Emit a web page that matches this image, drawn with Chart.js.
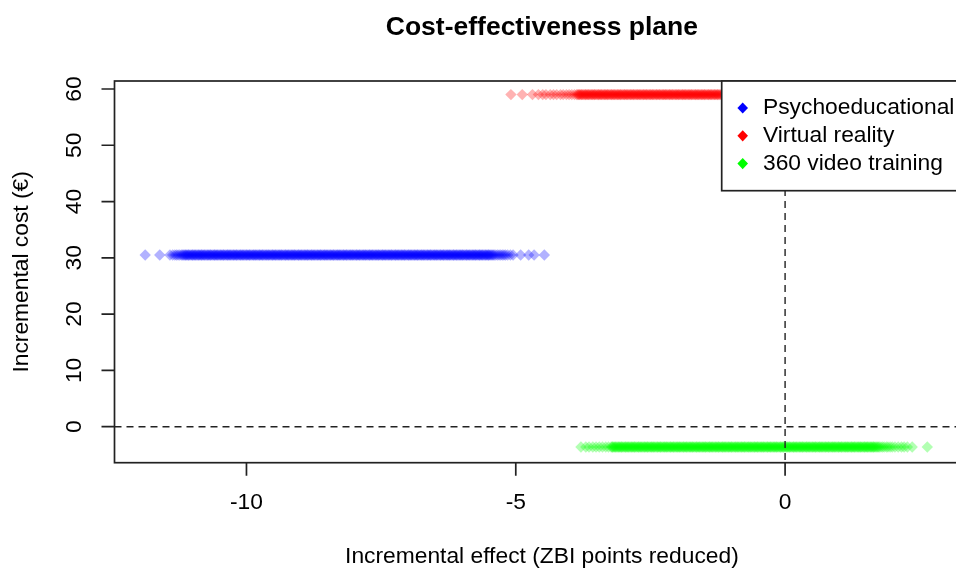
<!DOCTYPE html>
<html>
<head>
<meta charset="utf-8">
<title>Cost-effectiveness plane</title>
<script src="https://cdn.jsdelivr.net/npm/chart.js@4.4.1/dist/chart.umd.min.js"></script>
<style>
  html, body { margin: 0; padding: 0; background: #fff; overflow: hidden; }
  #wrap { width: 956px; height: 569px; overflow: hidden; }
</style>
</head>
<body>
<div id="wrap"><canvas id="cePlane" width="975" height="569"></canvas></div>
<script>
// incremental cost (€) of each intervention, and its simulated incremental effects
const seriesNames = ['Psychoeducational', 'Virtual reality', '360 video training'];
const seriesColors = ['0,0,255', '255,0,0', '0,255,0'];
const seriesCost = [30.5, 59.0, -3.6];

const psychoEffect = [
  -11.88, -11.61, -11.42, -11.37, -11.33, -11.30, -11.27, -11.24, -11.21, -11.19, -11.17,
  -11.15, -11.13, -11.12, -11.10, -11.08, -11.07, -11.05, -11.03, -11.01, -11.00,
  -10.98, -10.96, -10.95, -10.93, -10.91, -10.89, -10.88, -10.86, -10.84, -10.83,
  -10.81, -10.79, -10.78, -10.76, -10.74, -10.72, -10.71, -10.69, -10.67, -10.66,
  -10.64, -10.62, -10.60, -10.59, -10.57, -10.55, -10.54, -10.52, -10.50, -10.48,
  -10.47, -10.45, -10.43, -10.42, -10.40, -10.38, -10.36, -10.35, -10.33, -10.31,
  -10.30, -10.28, -10.26, -10.24, -10.23, -10.21, -10.19, -10.18, -10.16, -10.14,
  -10.12, -10.11, -10.09, -10.07, -10.06, -10.04, -10.02, -10.00, -9.99, -9.97,
  -9.95, -9.94, -9.92, -9.90, -9.88, -9.87, -9.85, -9.83, -9.82, -9.80,
  -9.78, -9.76, -9.75, -9.73, -9.71, -9.70, -9.68, -9.66, -9.64, -9.63,
  -9.61, -9.59, -9.58, -9.56, -9.54, -9.52, -9.51, -9.49, -9.47, -9.46,
  -9.44, -9.42, -9.40, -9.39, -9.37, -9.35, -9.34, -9.32, -9.30, -9.28,
  -9.27, -9.25, -9.23, -9.22, -9.20, -9.18, -9.16, -9.15, -9.13, -9.11,
  -9.10, -9.08, -9.06, -9.04, -9.03, -9.01, -8.99, -8.98, -8.96, -8.94,
  -8.92, -8.91, -8.89, -8.87, -8.86, -8.84, -8.82, -8.80, -8.79, -8.77,
  -8.75, -8.74, -8.72, -8.70, -8.68, -8.67, -8.65, -8.63, -8.62, -8.60,
  -8.58, -8.56, -8.55, -8.53, -8.51, -8.50, -8.48, -8.46, -8.44, -8.43,
  -8.41, -8.39, -8.38, -8.36, -8.34, -8.32, -8.31, -8.29, -8.27, -8.26,
  -8.24, -8.22, -8.20, -8.19, -8.17, -8.15, -8.14, -8.12, -8.10, -8.08,
  -8.07, -8.05, -8.03, -8.02, -8.00, -7.98, -7.96, -7.95, -7.93, -7.91,
  -7.90, -7.88, -7.86, -7.84, -7.83, -7.81, -7.79, -7.78, -7.76, -7.74,
  -7.72, -7.71, -7.69, -7.67, -7.66, -7.64, -7.62, -7.60, -7.59, -7.57,
  -7.55, -7.54, -7.52, -7.50, -7.48, -7.47, -7.45, -7.43, -7.42, -7.40,
  -7.38, -7.36, -7.35, -7.33, -7.31, -7.30, -7.28, -7.26, -7.24, -7.23,
  -7.21, -7.19, -7.18, -7.16, -7.14, -7.12, -7.11, -7.09, -7.07, -7.06,
  -7.04, -7.02, -7.00, -6.99, -6.97, -6.95, -6.94, -6.92, -6.90, -6.88,
  -6.87, -6.85, -6.83, -6.82, -6.80, -6.78, -6.76, -6.75, -6.73, -6.71,
  -6.70, -6.68, -6.66, -6.64, -6.63, -6.61, -6.59, -6.58, -6.56, -6.54,
  -6.52, -6.51, -6.49, -6.47, -6.46, -6.44, -6.42, -6.40, -6.39, -6.37,
  -6.35, -6.34, -6.32, -6.30, -6.28, -6.27, -6.25, -6.23, -6.22, -6.20,
  -6.18, -6.16, -6.15, -6.13, -6.11, -6.10, -6.08, -6.06, -6.04, -6.03,
  -6.01, -5.99, -5.98, -5.96, -5.94, -5.92, -5.91, -5.89, -5.87, -5.86,
  -5.84, -5.82, -5.80, -5.79, -5.77, -5.75, -5.74, -5.72, -5.70, -5.68,
  -5.67, -5.65, -5.63, -5.62, -5.60, -5.58, -5.56, -5.55, -5.53, -5.51,
  -5.50, -5.48, -5.46, -5.44, -5.42, -5.40, -5.37,
  -5.34, -5.31, -5.28, -5.25, -5.22, -5.19, -5.15, -5.10, -5.05, -4.91,
  -4.76, -4.66, -4.47
];

const vrEffect = [
  -5.09, -4.88, -4.69, -4.58, -4.50, -4.44, -4.36, -4.30, -4.24, -4.17,
  -4.12, -4.06, -4.01, -3.96, -3.91,
  -3.87, -3.85, -3.83, -3.82, -3.80, -3.78, -3.77, -3.75, -3.73, -3.71,
  -3.70, -3.68, -3.66, -3.65, -3.63, -3.61, -3.59, -3.58, -3.56, -3.54,
  -3.53, -3.51, -3.49, -3.47, -3.46, -3.44, -3.42, -3.41, -3.39, -3.37,
  -3.35, -3.34, -3.32, -3.30, -3.29, -3.27, -3.25, -3.23, -3.22, -3.20,
  -3.18, -3.17, -3.15, -3.13, -3.11, -3.10, -3.08, -3.06, -3.05, -3.03,
  -3.01, -2.99, -2.98, -2.96, -2.94, -2.93, -2.91, -2.89, -2.87, -2.86,
  -2.84, -2.82, -2.81, -2.79, -2.77, -2.75, -2.74, -2.72, -2.70, -2.69,
  -2.67, -2.65, -2.63, -2.62, -2.60, -2.58, -2.57, -2.55, -2.53, -2.51,
  -2.50, -2.48, -2.46, -2.45, -2.43, -2.41, -2.39, -2.38, -2.36, -2.34,
  -2.33, -2.31, -2.29, -2.27, -2.26, -2.24, -2.22, -2.21, -2.19, -2.17,
  -2.15, -2.14, -2.12, -2.10, -2.09, -2.07, -2.05, -2.03, -2.02, -2.00,
  -1.98, -1.97, -1.95, -1.93, -1.91, -1.90, -1.88, -1.86, -1.85, -1.83,
  -1.81, -1.79, -1.78, -1.76, -1.74, -1.73, -1.71, -1.69, -1.67, -1.66,
  -1.64, -1.62, -1.61, -1.59, -1.57, -1.55, -1.54, -1.52, -1.50, -1.49,
  -1.47, -1.45, -1.43, -1.42, -1.40, -1.38, -1.37, -1.35, -1.33, -1.31,
  -1.30, -1.28, -1.26, -1.25, -1.23, -1.21, -1.19, -1.17,
  -1.14, -1.10, -1.05, -0.98, -0.90, -0.81, -0.70, -0.55, -0.38, -0.15, 0.12
];

const videoEffect = [
  -3.79, -3.70, -3.64, -3.57, -3.51, -3.45, -3.39, -3.33, -3.28,
  -3.23, -3.21, -3.20, -3.18, -3.16, -3.15, -3.13, -3.11, -3.09, -3.08,
  -3.06, -3.04, -3.03, -3.01, -2.99, -2.97, -2.96, -2.94, -2.92, -2.91,
  -2.89, -2.87, -2.85, -2.84, -2.82, -2.80, -2.79, -2.77, -2.75, -2.73,
  -2.72, -2.70, -2.68, -2.67, -2.65, -2.63, -2.61, -2.60, -2.58, -2.56,
  -2.55, -2.53, -2.51, -2.49, -2.48, -2.46, -2.44, -2.43, -2.41, -2.39,
  -2.37, -2.36, -2.34, -2.32, -2.31, -2.29, -2.27, -2.25, -2.24, -2.22,
  -2.20, -2.19, -2.17, -2.15, -2.13, -2.12, -2.10, -2.08, -2.07, -2.05,
  -2.03, -2.01, -2.00, -1.98, -1.96, -1.95, -1.93, -1.91, -1.89, -1.88,
  -1.86, -1.84, -1.83, -1.81, -1.79, -1.77, -1.76, -1.74, -1.72, -1.71,
  -1.69, -1.67, -1.65, -1.64, -1.62, -1.60, -1.59, -1.57, -1.55, -1.53,
  -1.52, -1.50, -1.48, -1.47, -1.45, -1.43, -1.41, -1.40, -1.38, -1.36,
  -1.35, -1.33, -1.31, -1.29, -1.28, -1.26, -1.24, -1.23, -1.21, -1.19,
  -1.17, -1.16, -1.14, -1.12, -1.11, -1.09, -1.07, -1.05, -1.04, -1.02,
  -1.00, -0.99, -0.97, -0.95, -0.93, -0.92, -0.90, -0.88, -0.87, -0.85,
  -0.83, -0.81, -0.80, -0.78, -0.76, -0.75, -0.73, -0.71, -0.69, -0.68,
  -0.66, -0.64, -0.63, -0.61, -0.59, -0.57, -0.56, -0.54, -0.52, -0.51,
  -0.49, -0.47, -0.45, -0.44, -0.42, -0.40, -0.39, -0.37, -0.35, -0.33,
  -0.32, -0.30, -0.28, -0.27, -0.25, -0.23, -0.21, -0.20, -0.18, -0.16,
  -0.15, -0.13, -0.11, -0.09, -0.08, -0.06, -0.04, -0.03, -0.01, 0.01,
  0.03, 0.04, 0.06, 0.08, 0.09, 0.11, 0.13, 0.15, 0.16, 0.18,
  0.20, 0.21, 0.23, 0.25, 0.27, 0.28, 0.30, 0.32, 0.33, 0.35,
  0.37, 0.39, 0.40, 0.42, 0.44, 0.45, 0.47, 0.49, 0.51, 0.52,
  0.54, 0.56, 0.57, 0.59, 0.61, 0.63, 0.64, 0.66, 0.68, 0.69,
  0.71, 0.73, 0.75, 0.76, 0.78, 0.80, 0.81, 0.83, 0.85, 0.87,
  0.88, 0.90, 0.92, 0.93, 0.95, 0.97, 0.99, 1.00, 1.02, 1.04,
  1.05, 1.07, 1.09, 1.11, 1.12, 1.14, 1.16, 1.17, 1.19, 1.21,
  1.23, 1.24, 1.26, 1.28, 1.29, 1.31, 1.33, 1.35, 1.36, 1.38,
  1.40, 1.41, 1.43, 1.45, 1.47, 1.48, 1.50, 1.52, 1.53, 1.55,
  1.57, 1.59, 1.60, 1.62, 1.64, 1.65, 1.67, 1.69, 1.71, 1.73,
  1.75, 1.78, 1.81, 1.84,
  1.88, 1.91, 1.95, 1.99, 2.04, 2.10, 2.16, 2.21, 2.27, 2.36, 2.64
];

const xTicks = [-10, -5, 0];
const yTicks = [0, 10, 20, 30, 40, 50, 60];

const effects = [psychoEffect, vrEffect, videoEffect];
const FONT = '"Liberation Sans", Arial, sans-serif';

// draws the base-R look: box, outward ticks, rotated y labels, titles, dashed zero lines, legend
const rStyle = {
    id: 'rStyle',
    afterDatasetsDraw(chart) {
        const { ctx, chartArea: a, scales: { x, y } } = chart;
        ctx.save();

        // dashed lines through the origin
        ctx.strokeStyle = '#222';
        ctx.lineWidth = 1.4;
        ctx.setLineDash([7, 5]);
        const x0 = x.getPixelForValue(0);
        const y0 = y.getPixelForValue(0);
        ctx.beginPath();
        ctx.moveTo(a.left, y0); ctx.lineTo(a.right, y0);
        ctx.moveTo(x0, a.top); ctx.lineTo(x0, a.bottom);
        ctx.stroke();
        ctx.setLineDash([]);

        // plot box
        ctx.lineWidth = 1.7;
        ctx.strokeRect(a.left, a.top, a.width, a.height);

        ctx.fillStyle = '#000';
        ctx.font = '22.8px ' + FONT;
        ctx.textAlign = 'center';
        ctx.textBaseline = 'middle';

        // x axis
        ctx.beginPath();
        xTicks.forEach(v => {
            const px = x.getPixelForValue(v);
            ctx.moveTo(px, a.bottom);
            ctx.lineTo(px, a.bottom + 13);
        });
        ctx.stroke();
        xTicks.forEach(v => ctx.fillText(String(v), x.getPixelForValue(v), 503));

        // y axis
        ctx.beginPath();
        yTicks.forEach(v => {
            const py = y.getPixelForValue(v);
            ctx.moveTo(a.left - 13, py);
            ctx.lineTo(a.left, py);
        });
        ctx.stroke();
        yTicks.forEach(v => {
            ctx.save();
            ctx.translate(75, y.getPixelForValue(v));
            ctx.rotate(-Math.PI / 2);
            ctx.fillText(String(v), 0, 0);
            ctx.restore();
        });

        // axis titles
        const cx = (a.left + a.right) / 2;
        ctx.fillText('Incremental effect (ZBI points reduced)', cx, 557);
        ctx.save();
        ctx.translate(22, (a.top + a.bottom) / 2);
        ctx.rotate(-Math.PI / 2);
        ctx.fillText('Incremental cost (€)', 0, 0);
        ctx.restore();

        // main title
        ctx.font = 'bold 26.5px ' + FONT;
        ctx.fillText('Cost-effectiveness plane', cx, 28);

        // legend, top right inside the box
        const lx = 721.7, ly = a.top, lb = 190.7;
        ctx.fillStyle = '#fff';
        ctx.fillRect(lx, ly, a.right - lx, lb - ly);
        ctx.lineWidth = 1.7;
        ctx.strokeRect(lx, ly, a.right - lx, lb - ly);
        ctx.font = '22.8px ' + FONT;
        ctx.textAlign = 'left';
        chart.data.datasets.forEach((ds, i) => {
            const iy = 108 + i * 27.8;
            ctx.fillStyle = 'rgb(' + seriesColors[i] + ')';
            ctx.beginPath();
            ctx.moveTo(742.7 - 5.3, iy);
            ctx.lineTo(742.7, iy - 5.6);
            ctx.lineTo(742.7 + 5.3, iy);
            ctx.lineTo(742.7, iy + 5.6);
            ctx.closePath();
            ctx.fill();
            ctx.fillStyle = '#000';
            ctx.fillText(ds.label, 763, iy);
        });

        ctx.restore();
    }
};

new Chart(document.getElementById('cePlane'), {
    type: 'scatter',
    data: {
        datasets: seriesNames.map((name, i) => ({
            label: name,
            data: effects[i].map(e => ({ x: e, y: seriesCost[i] })),
            pointStyle: 'rectRot',
            pointRadius: 5.7,
            pointBorderWidth: 0,
            pointBackgroundColor: 'rgba(' + seriesColors[i] + ',0.3)',
            borderColor: 'rgba(' + seriesColors[i] + ',0.3)'
        }))
    },
    options: {
        responsive: false,
        devicePixelRatio: 1,
        animation: false,
        events: [],
        layout: { padding: { left: 114.5, top: 81, right: 4.8, bottom: 106.3 } },
        scales: {
            x: { type: 'linear', min: -12.45, max: 3.42, display: false },
            y: { type: 'linear', min: -6.4, max: 61.42, display: false }
        },
        plugins: {
            legend: { display: false },
            tooltip: { enabled: false },
            title: { display: false }
        }
    },
    plugins: [rStyle]
});
</script>
</body>
</html>
